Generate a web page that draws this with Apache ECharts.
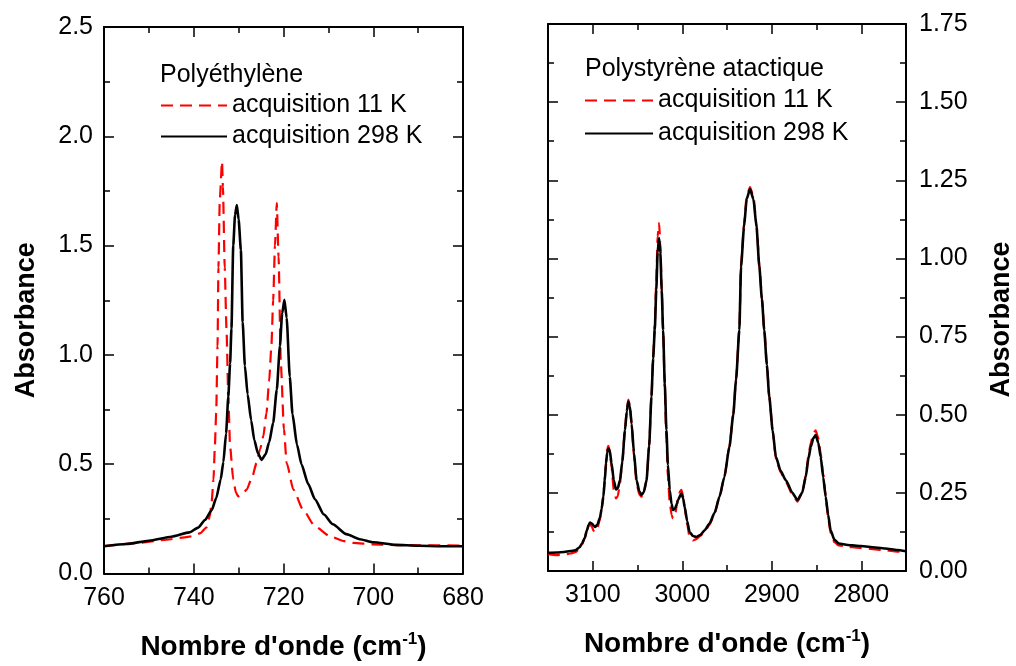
<!DOCTYPE html>
<html>
<head>
<meta charset="utf-8">
<title>Absorbance</title>
<script src="https://cdn.jsdelivr.net/npm/echarts@6/dist/echarts.min.js"></script>
<style>
    html, body { margin: 0; padding: 0; background: #fff; }
    #container_spectra { width: 1016px; height: 666px; }
</style>
</head>
<body>
<div id="container_spectra"></div>
<script>
// =================================================================================
// Polyethylene data (wavenumber, absorbance)
var pe11Wn = [760, 752, 746, 742, 740, 738.5, 737.2, 736.4, 736, 735.6, 735.3, 735.0, 734.7, 734.5, 734.2, 733.7, 733.5, 733.1, 732.7, 732.3, 731.9, 731.2, 730.6, 730.1, 729.3, 728.2, 727, 726, 725.2, 724.5, 723.8, 723.2, 722.7, 722.3, 721.9, 721.5, 721.1, 720.6, 719.9, 719.3, 717.8, 715.6, 713, 709.6, 706.5, 704.4, 700, 695, 690, 680];
var pe11Abs = [0.125, 0.140, 0.155, 0.165, 0.172, 0.185, 0.21, 0.262, 0.33, 0.43, 0.58, 0.734, 1.04, 1.40, 1.71, 1.884, 1.77, 1.40, 1.115, 0.81, 0.58, 0.43, 0.37, 0.353, 0.36, 0.384, 0.44, 0.506, 0.57, 0.628, 0.734, 0.88, 1.04, 1.25, 1.50, 1.694, 1.45, 0.963, 0.66, 0.506, 0.384, 0.29, 0.216, 0.17, 0.148, 0.14, 0.133, 0.13, 0.129, 0.128];

var pe298Wn = [760, 755, 750, 745, 741, 739, 737.5, 736, 735, 734, 733.4, 732.8, 732.3, 731.9, 731.6, 731.2, 730.8, 730.4, 730.0, 729.5, 729.1, 728.6, 728.0, 727.2, 726.5, 725.7, 724.9, 724.0, 723.2, 722.3, 721.5, 720.8, 720.3, 719.8, 719.3, 718.6, 718.0, 717.0, 716.0, 714.5, 713, 711, 709, 706, 703, 700, 695, 690, 685, 680];
var pe298Abs = [0.125, 0.135, 0.150, 0.168, 0.188, 0.210, 0.245, 0.29, 0.345, 0.43, 0.51, 0.64, 0.81, 0.96, 1.12, 1.50, 1.64, 1.686, 1.62, 1.48, 1.15, 0.95, 0.82, 0.70, 0.61, 0.55, 0.52, 0.545, 0.60, 0.69, 0.84, 1.04, 1.19, 1.252, 1.17, 0.90, 0.73, 0.59, 0.50, 0.41, 0.34, 0.27, 0.225, 0.18, 0.157, 0.143, 0.131, 0.127, 0.125, 0.125];

// =================================================================================
// Atactic polystyrene data (wavenumber, absorbance)
var ps11Wn = [3150, 3140, 3132, 3125, 3119.6, 3115, 3112, 3109, 3106.6, 3104.5, 3103, 3101, 3099, 3097.4, 3095, 3092, 3090, 3088.2, 3086.5, 3085.2, 3083.8, 3082.6, 3081, 3079, 3076.5, 3074, 3072, 3069.6, 3067, 3064, 3062, 3060.3, 3058.5, 3056.6, 3054, 3051, 3048, 3045.5, 3043, 3039.9, 3037, 3034.4, 3032.5, 3030.7, 3029, 3027.5, 3025.9, 3024.5, 3023, 3021.4, 3019.5, 3017.7, 3016, 3014, 3012, 3010.3, 3008, 3006, 3004.8, 3002.5, 3001, 2999, 2997.3, 2994.5, 2991.8, 2988, 2984.3, 2980, 2975, 2969.5, 2964, 2958.4, 2953, 2947.3, 2943, 2939.9, 2936.2, 2934.3, 2931, 2928, 2924.3, 2920.5, 2917, 2913.9, 2911, 2908.4, 2905.5, 2902.8, 2899, 2895.4, 2890, 2884.2, 2877, 2871.3, 2866, 2862, 2859, 2856.4, 2853.5, 2850.9, 2848, 2845.3, 2842.5, 2839.7, 2837, 2834.2, 2830, 2825, 2815, 2810, 2800, 2790, 2773, 2760, 2750];
var ps11Abs = [0.054, 0.051, 0.052, 0.056, 0.060, 0.070, 0.085, 0.105, 0.128, 0.146, 0.150, 0.142, 0.128, 0.124, 0.135, 0.165, 0.20, 0.24, 0.30, 0.35, 0.39, 0.40, 0.385, 0.33, 0.26, 0.232, 0.24, 0.28, 0.35, 0.45, 0.515, 0.548, 0.53, 0.47, 0.37, 0.28, 0.245, 0.238, 0.25, 0.29, 0.40, 0.56, 0.69, 0.79, 0.93, 1.07, 1.113, 1.05, 0.91, 0.77, 0.58, 0.42, 0.30, 0.22, 0.18, 0.168, 0.18, 0.21, 0.232, 0.255, 0.26, 0.24, 0.205, 0.15, 0.108, 0.098, 0.102, 0.112, 0.125, 0.148, 0.182, 0.235, 0.30, 0.40, 0.50, 0.615, 0.775, 0.98, 1.11, 1.20, 1.228, 1.20, 1.11, 0.98, 0.875, 0.775, 0.665, 0.56, 0.45, 0.36, 0.315, 0.285, 0.245, 0.222, 0.25, 0.305, 0.37, 0.41, 0.44, 0.45, 0.425, 0.375, 0.31, 0.24, 0.17, 0.12, 0.092, 0.082, 0.077, 0.076, 0.074, 0.071, 0.066, 0.062, 0.060];

var ps298Wn = [3150, 3140, 3132, 3125, 3119.6, 3115, 3112, 3109, 3106.6, 3104.5, 3103, 3101, 3099, 3097.4, 3095, 3092, 3090, 3088.2, 3086.5, 3085.2, 3083.8, 3082.6, 3081, 3079, 3076.5, 3074, 3072, 3069.6, 3067, 3064, 3062, 3060.3, 3058.5, 3056.6, 3054, 3051, 3048, 3045.5, 3043, 3039.9, 3037, 3034.4, 3032.5, 3030.7, 3029, 3027.5, 3025.9, 3024.5, 3023, 3021.4, 3019.5, 3017.7, 3016, 3014, 3012, 3010.3, 3008, 3006, 3004.8, 3001, 2999, 2997.3, 2994.5, 2991.8, 2988, 2984.3, 2980, 2975, 2969.5, 2964, 2958.4, 2953, 2947.3, 2943, 2939.9, 2936.2, 2934.3, 2931, 2928, 2924.3, 2920.5, 2917, 2913.9, 2911, 2908.4, 2905.5, 2902.8, 2899, 2895.4, 2890, 2884.2, 2877, 2871.3, 2866, 2862, 2859, 2856.4, 2853.5, 2850.9, 2848, 2845.3, 2842.5, 2839.7, 2837, 2834.2, 2830, 2825, 2815, 2810, 2800, 2790, 2773, 2760, 2750];
var ps298Abs = [0.058, 0.059, 0.061, 0.064, 0.066, 0.075, 0.088, 0.105, 0.13, 0.148, 0.155, 0.152, 0.145, 0.141, 0.148, 0.170, 0.20, 0.237, 0.29, 0.344, 0.38, 0.392, 0.385, 0.345, 0.29, 0.261, 0.265, 0.29, 0.35, 0.45, 0.51, 0.542, 0.525, 0.472, 0.38, 0.29, 0.255, 0.243, 0.252, 0.29, 0.40, 0.558, 0.68, 0.771, 0.90, 1.02, 1.065, 1.02, 0.90, 0.771, 0.60, 0.451, 0.34, 0.259, 0.215, 0.195, 0.20, 0.215, 0.227, 0.248, 0.232, 0.205, 0.16, 0.125, 0.112, 0.109, 0.115, 0.13, 0.152, 0.185, 0.237, 0.30, 0.397, 0.50, 0.611, 0.771, 0.974, 1.10, 1.19, 1.222, 1.19, 1.10, 0.974, 0.87, 0.771, 0.66, 0.558, 0.45, 0.365, 0.32, 0.29, 0.25, 0.227, 0.25, 0.301, 0.36, 0.397, 0.425, 0.435, 0.41, 0.365, 0.30, 0.237, 0.18, 0.13, 0.10, 0.088, 0.083, 0.082, 0.080, 0.077, 0.072, 0.067, 0.063];

// tick values for the polystyrene panel
var psXMajor = [3100, 3000, 2900, 2800];
var psXMinor = [3150, 3050, 2950, 2850, 2750];

var name11 = 'acquisition 11 K',
    name298 = 'acquisition 298 K';

function pairs(xs, ys) {
    var res = [];
    for (var i = 0; i < xs.length; i++) {
        res.push([xs[i], ys[i]]);
    }
    return res;
}

var FONT = 'Liberation Sans';
var lineColor = '#000';

// axis that only draws a frame side with inward ticks
function frameAxis(extra) {
    var base = {
        type: 'value',
        axisLine: { show: true, onZero: false, lineStyle: { color: lineColor, width: 2 } },
        axisTick: { show: true, inside: true, length: 10, lineStyle: { color: lineColor, width: 1.5 } },
        minorTick: { show: false },
        axisLabel: { show: false },
        splitLine: { show: false }
    };
    for (var k in extra) {
        base[k] = extra[k];
    }
    return base;
}

var minor = { show: true, splitNumber: 2, length: 6, lineStyle: { color: lineColor, width: 1.5 } };

var xName = "Nombre d'onde (cm{sup|-1})";
var xNameStyle = {
    color: '#000', fontFamily: FONT, fontSize: 28, fontWeight: 'bold',
    rich: { sup: { fontFamily: FONT, fontSize: 17, fontWeight: 'bold', color: '#000', padding: [0, 0, 16, 0] } }
};
var yNameStyle = { color: '#000', fontFamily: FONT, fontSize: 27, fontWeight: 'bold' };
var legendText = { color: '#000', fontFamily: FONT, fontSize: 25 };

var spectra_charts = echarts.init(document.getElementById('container_spectra'));

var option_spectra = {
    animation: false,
    backgroundColor: '#fff',
    title: [
        { text: 'Polyéthylène', left: 160, top: 63, padding: 0,
          textStyle: { color: '#000', fontFamily: FONT, fontSize: 25, fontWeight: 'normal' } },
        { text: 'Polystyrène atactique', left: 585, top: 57, padding: 0,
          textStyle: { color: '#000', fontFamily: FONT, fontSize: 25, fontWeight: 'normal' } }
    ],
    legend: [
        { orient: 'vertical', left: 160, top: 93, padding: 0, itemWidth: 66, itemHeight: 24, itemGap: 6,
          data: [name11, name298], selectedMode: false,
          itemStyle: { opacity: 0 },
          textStyle: legendText },
        { orient: 'vertical', left: 584, top: 88, padding: 0, itemWidth: 68, itemHeight: 24, itemGap: 8,
          data: [name11, name298], selectedMode: false,
          itemStyle: { opacity: 0 },
          textStyle: legendText }
    ],
    grid: [
        { left: 104, top: 27, width: 359, height: 547 },
        { left: 548, top: 24, width: 359, height: 547 }
    ],
    xAxis: [
        // polyethylene, bottom
        frameAxis({ gridIndex: 0, position: 'bottom', min: 680, max: 760, interval: 20, inverse: true,
            minorTick: minor,
            axisLabel: { show: true, color: '#000', fontFamily: FONT, fontSize: 25, margin: 12 },
            name: xName, nameLocation: 'middle', nameGap: 57, nameTextStyle: xNameStyle }),
        // polyethylene, top
        frameAxis({ gridIndex: 0, position: 'top', min: 680, max: 760, interval: 20, inverse: true,
            minorTick: minor }),
        // polystyrene, bottom
        frameAxis({ gridIndex: 1, position: 'bottom', min: 2750, max: 3150, inverse: true,
            axisTick: { show: true, inside: true, length: 10, customValues: psXMajor, lineStyle: { color: lineColor, width: 1.5 } },
            axisLabel: { show: true, color: '#000', fontFamily: FONT, fontSize: 25, margin: 12, customValues: psXMajor,
                formatter: function (v) { return String(v); } },
            name: xName, nameLocation: 'middle', nameGap: 57, nameTextStyle: xNameStyle }),
        frameAxis({ gridIndex: 1, position: 'bottom', min: 2750, max: 3150, inverse: true,
            axisLine: { show: false, onZero: false },
            axisTick: { show: true, inside: true, length: 6, customValues: psXMinor, lineStyle: { color: lineColor, width: 1.5 } } }),
        // polystyrene, top
        frameAxis({ gridIndex: 1, position: 'top', min: 2750, max: 3150, inverse: true,
            axisTick: { show: true, inside: true, length: 10, customValues: psXMajor, lineStyle: { color: lineColor, width: 1.5 } } }),
        frameAxis({ gridIndex: 1, position: 'top', min: 2750, max: 3150, inverse: true,
            axisLine: { show: false, onZero: false },
            axisTick: { show: true, inside: true, length: 6, customValues: psXMinor, lineStyle: { color: lineColor, width: 1.5 } } })
    ],
    yAxis: [
        // polyethylene, left
        frameAxis({ gridIndex: 0, position: 'left', min: 0, max: 2.5, interval: 0.5,
            minorTick: minor,
            axisLabel: { show: true, color: '#000', fontFamily: FONT, fontSize: 25, margin: 11,
                formatter: function (v) { return v.toFixed(1); } },
            name: 'Absorbance', nameLocation: 'middle', nameGap: 64,
            nameTextStyle: Object.assign({ padding: [0, 40, 0, 0] }, yNameStyle) }),
        // polyethylene, right
        frameAxis({ gridIndex: 0, position: 'right', min: 0, max: 2.5, interval: 0.5, minorTick: minor }),
        // polystyrene, right
        frameAxis({ gridIndex: 1, position: 'right', min: 0, max: 1.75, interval: 0.25,
            minorTick: minor,
            axisLabel: { show: true, color: '#000', fontFamily: FONT, fontSize: 25, margin: 13,
                formatter: function (v) { return v.toFixed(2); } },
            name: 'Absorbance', nameLocation: 'middle', nameGap: 82,
            nameTextStyle: Object.assign({ padding: [0, 44, 0, 0] }, yNameStyle) }),
        // polystyrene, left
        frameAxis({ gridIndex: 1, position: 'left', min: 0, max: 1.75, interval: 0.25, minorTick: minor })
    ],
    series: [
        {
            name: name11, type: 'line', xAxisIndex: 0, yAxisIndex: 0,
            symbol: 'none', smooth: 0.2, smoothMonotone: 'x',
            lineStyle: { color: '#ff0000', width: 2.2, type: [12, 7] },
            itemStyle: { color: '#ff0000' },
            data: pairs(pe11Wn, pe11Abs)
        },
        {
            name: name298, type: 'line', xAxisIndex: 0, yAxisIndex: 0,
            symbol: 'none', smooth: 0.2, smoothMonotone: 'x',
            lineStyle: { color: '#000', width: 2.6 },
            itemStyle: { color: '#000' },
            data: pairs(pe298Wn, pe298Abs)
        },
        {
            name: name11, type: 'line', xAxisIndex: 2, yAxisIndex: 2,
            symbol: 'none', smooth: 0.2, smoothMonotone: 'x',
            lineStyle: { color: '#ff0000', width: 2.2, type: [12, 7] },
            itemStyle: { color: '#ff0000' },
            data: pairs(ps11Wn, ps11Abs)
        },
        {
            name: name298, type: 'line', xAxisIndex: 2, yAxisIndex: 2,
            symbol: 'none', smooth: 0.2, smoothMonotone: 'x',
            lineStyle: { color: '#000', width: 2.6 },
            itemStyle: { color: '#000' },
            data: pairs(ps298Wn, ps298Abs)
        }
    ]
};

spectra_charts.setOption(option_spectra);
</script>
</body>
</html>
